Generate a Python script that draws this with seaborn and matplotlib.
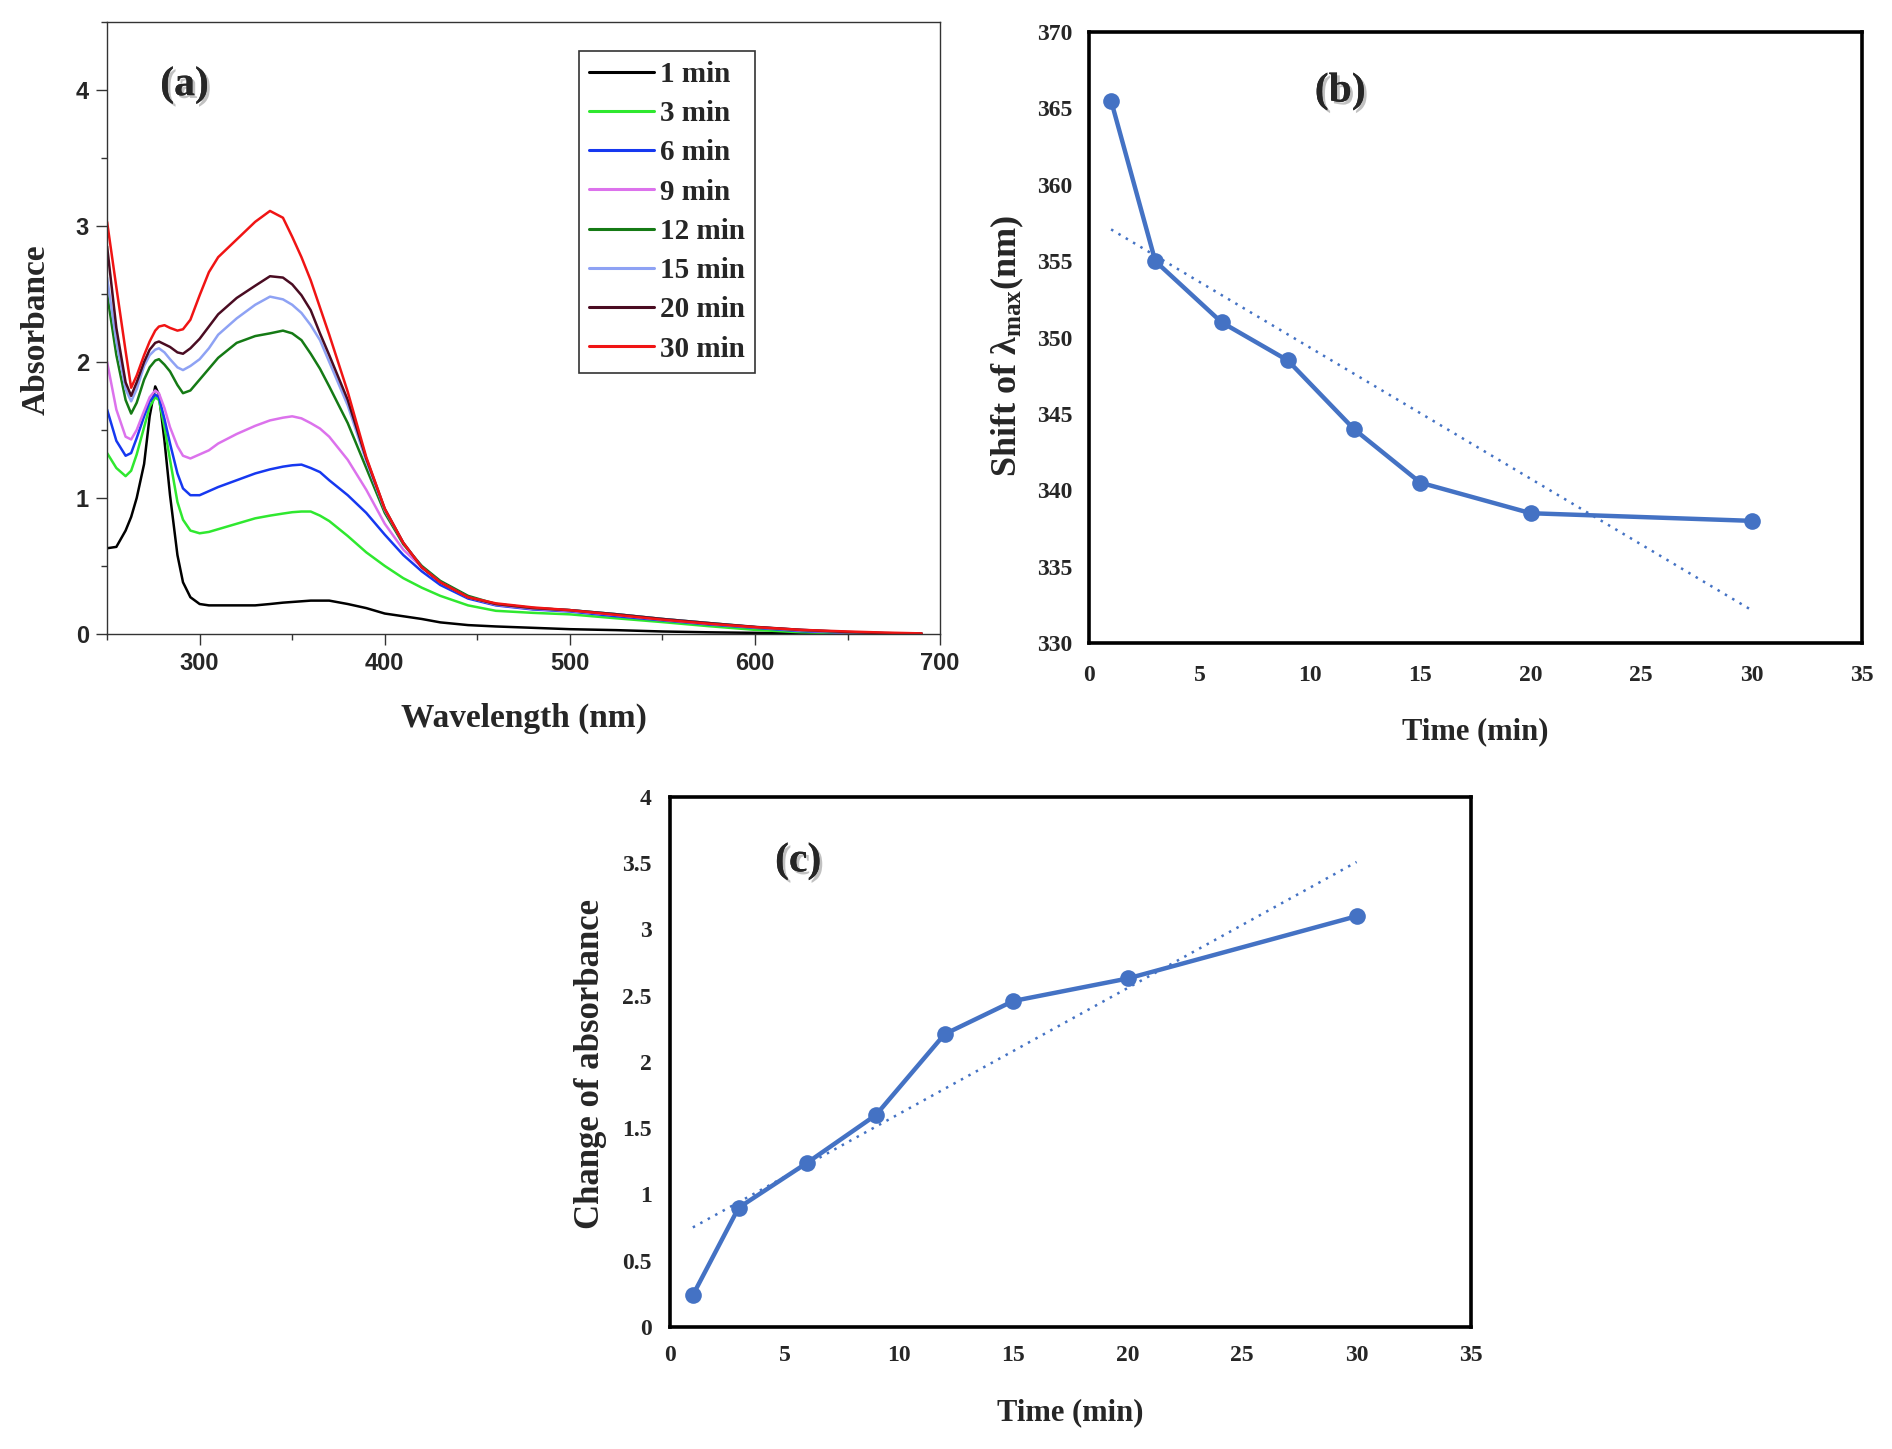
import numpy as np
import pandas as pd
import matplotlib
matplotlib.use("Agg")
import matplotlib.pyplot as plt
import matplotlib.patheffects as pe
import seaborn as sns

# ---- panel (a): UV-vis spectra ----
wavelength = [250, 255, 260, 263, 266, 270, 273, 276, 278, 281, 284, 288, 291, 295,
              300, 305, 310, 320, 330, 338, 345, 350, 355, 360, 365, 370, 380, 390,
              400, 410, 420, 430, 445, 460, 480, 500, 525, 550, 575, 600, 625, 650,
              670, 690]

abs_1min = [0.63, 0.64, 0.76, 0.86, 1.00, 1.25, 1.60, 1.82, 1.76, 1.42, 1.02, 0.58, 0.38, 0.27,
            0.22, 0.21, 0.21, 0.21, 0.21, 0.22, 0.23, 0.235, 0.24, 0.245, 0.245, 0.245, 0.22, 0.19,
            0.15, 0.13, 0.11, 0.085, 0.065, 0.055, 0.045, 0.035, 0.028, 0.018, 0.012, 0.008, 0.005,
            0.003, 0.002, 0.001]
abs_3min = [1.33, 1.22, 1.16, 1.20, 1.32, 1.52, 1.67, 1.74, 1.72, 1.52, 1.28, 0.97, 0.84, 0.76,
            0.74, 0.75, 0.77, 0.81, 0.85, 0.87, 0.885, 0.895, 0.90, 0.90, 0.87, 0.83, 0.72, 0.60,
            0.50, 0.41, 0.34, 0.28, 0.21, 0.17, 0.155, 0.144, 0.115, 0.087, 0.057, 0.03, 0.012,
            0.005, 0.002, 0.001]
abs_6min = [1.65, 1.42, 1.31, 1.33, 1.44, 1.60, 1.71, 1.76, 1.74, 1.58, 1.40, 1.18, 1.07, 1.02,
            1.02, 1.05, 1.08, 1.13, 1.18, 1.21, 1.23, 1.24, 1.245, 1.22, 1.19, 1.13, 1.02, 0.89,
            0.73, 0.58, 0.46, 0.36, 0.26, 0.21, 0.18, 0.165, 0.13, 0.10, 0.07, 0.045, 0.02,
            0.008, 0.003, 0.001]
abs_9min = [2.00, 1.65, 1.45, 1.43, 1.50, 1.64, 1.74, 1.79, 1.77, 1.66, 1.52, 1.38, 1.31, 1.29,
            1.32, 1.35, 1.40, 1.47, 1.53, 1.57, 1.59, 1.60, 1.585, 1.55, 1.51, 1.45, 1.28, 1.06,
            0.81, 0.62, 0.49, 0.38, 0.27, 0.215, 0.185, 0.17, 0.14, 0.105, 0.075, 0.05, 0.025,
            0.01, 0.004, 0.001]
abs_12min = [2.50, 2.05, 1.72, 1.62, 1.70, 1.87, 1.96, 2.01, 2.02, 1.98, 1.93, 1.83, 1.77, 1.79,
             1.87, 1.95, 2.03, 2.14, 2.19, 2.21, 2.23, 2.21, 2.16, 2.06, 1.95, 1.82, 1.55, 1.22,
             0.89, 0.66, 0.50, 0.39, 0.28, 0.22, 0.19, 0.175, 0.145, 0.11, 0.08, 0.05, 0.028,
             0.012, 0.005, 0.001]
abs_15min = [2.62, 2.15, 1.80, 1.71, 1.80, 1.97, 2.05, 2.09, 2.10, 2.07, 2.02, 1.96, 1.94, 1.97,
             2.02, 2.10, 2.20, 2.32, 2.42, 2.48, 2.46, 2.42, 2.36, 2.27, 2.16, 2.00, 1.68, 1.27,
             0.91, 0.67, 0.49, 0.38, 0.27, 0.22, 0.19, 0.175, 0.145, 0.11, 0.08, 0.05, 0.03,
             0.013, 0.006, 0.002]
abs_20min = [2.85, 2.25, 1.85, 1.75, 1.85, 2.00, 2.09, 2.14, 2.15, 2.13, 2.11, 2.07, 2.06, 2.10,
             2.17, 2.26, 2.35, 2.47, 2.56, 2.63, 2.62, 2.57, 2.49, 2.38, 2.21, 2.05, 1.72, 1.29,
             0.92, 0.67, 0.49, 0.38, 0.27, 0.22, 0.19, 0.175, 0.145, 0.11, 0.08, 0.052, 0.03,
             0.014, 0.006, 0.002]
abs_30min = [3.03, 2.55, 2.08, 1.81, 1.90, 2.05, 2.15, 2.23, 2.26, 2.27, 2.25, 2.23, 2.24, 2.31,
             2.49, 2.66, 2.77, 2.90, 3.03, 3.11, 3.06, 2.92, 2.77, 2.60, 2.40, 2.20, 1.78, 1.30,
             0.92, 0.67, 0.49, 0.38, 0.27, 0.225, 0.195, 0.175, 0.14, 0.105, 0.075, 0.05, 0.03,
             0.018, 0.01, 0.004]

series_labels = ["1 min", "3 min", "6 min", "9 min", "12 min", "15 min", "20 min", "30 min"]
series_colors = ["#000000", "#2fe82f", "#1638f0", "#dc72ec", "#157a15", "#8ea2f4", "#4a0c22", "#f01414"]
spectra = [abs_1min, abs_3min, abs_6min, abs_9min, abs_12min, abs_15min, abs_20min, abs_30min]

# ---- panels (b) and (c): kinetics ----
time_min = [1, 3, 6, 9, 12, 15, 20, 30]
lambda_max = [365.5, 355.0, 351.0, 348.5, 344.0, 340.5, 338.5, 338.0]
abs_change = [0.24, 0.90, 1.24, 1.60, 2.21, 2.46, 2.63, 3.10]

excel_blue = "#4472C4"

sns.set_theme(style="white")
plt.rcParams["font.family"] = ["Liberation Serif", "DejaVu Serif"]
plt.rcParams["mathtext.fontset"] = "custom"
plt.rcParams["mathtext.rm"] = "Liberation Serif:bold"
plt.rcParams["mathtext.it"] = "Liberation Serif:bold"
plt.rcParams["mathtext.bf"] = "Liberation Serif:bold"

fig = plt.figure(figsize=(18.92, 14.49), dpi=100)
fig.patch.set_facecolor("white")

shadow = [pe.withSimplePatchShadow(offset=(2, -2), shadow_rgbFace="#999999", alpha=0.6), pe.Normal()]

# ================= (a) =================
ax_a = fig.add_axes([0.0566, 0.5625, 0.4403, 0.4224])
long_df = pd.DataFrame({
    "wl": wavelength * len(spectra),
    "A": [v for s in spectra for v in s],
    "t": [lab for lab in series_labels for _ in wavelength],
})
sns.lineplot(data=long_df, x="wl", y="A", hue="t", hue_order=series_labels,
             palette=series_colors, estimator=None, sort=False, lw=1.8, ax=ax_a)

ax_a.set_xlim(250, 700)
ax_a.set_ylim(0, 4.5)
ax_a.set_xticks([300, 400, 500, 600, 700], labels=["300", "400", "500", "600", "700"],
                fontfamily="Liberation Sans", fontweight="bold", fontsize=17)
ax_a.set_xticks([250, 350, 450, 550, 650], minor=True)
ax_a.set_yticks([0, 1, 2, 3, 4], labels=["0", "1", "2", "3", "4"],
                fontfamily="Liberation Sans", fontweight="bold", fontsize=17)
ax_a.set_yticks([0.5, 1.5, 2.5, 3.5, 4.5], minor=True)
ax_a.tick_params(which="both", direction="out", bottom=True, left=True, top=False, right=False,
                 width=1, color="#333333")
ax_a.tick_params(which="major", length=8, pad=5)
ax_a.tick_params(which="minor", length=4.5)
for sp in ax_a.spines.values():
    sp.set_color("#333333")
    sp.set_linewidth(1.0)
ax_a.set_xlabel("Wavelength (nm)", fontsize=24, fontweight="bold")
ax_a.set_ylabel("Absorbance", fontsize=24, fontweight="bold")
ax_a.xaxis.set_label_coords(0.5, -0.112)
ax_a.yaxis.set_label_coords(-0.066, 0.497)
leg = ax_a.legend(loc="upper left", bbox_to_anchor=(0.566, 0.953), frameon=True, fancybox=False,
                  edgecolor="#333333", framealpha=1, handlelength=2.25, handletextpad=0.2,
                  labelspacing=0.42, borderpad=0.35, borderaxespad=0,
                  prop={"family": "Liberation Serif", "weight": "bold", "size": 21})
leg.get_frame().set_linewidth(1.2)
for h in leg.get_lines():
    h.set_linewidth(2.2)
ax_a.text(0.093, 0.897, "(a)", transform=ax_a.transAxes, ha="center", va="center",
          fontsize=30, fontweight="bold", path_effects=shadow)


def excel_style(ax, pad_x, pad_y):
    ax.tick_params(which="both", length=0, labelsize=17, pad=0)
    ax.tick_params(axis="x", pad=pad_x)
    ax.tick_params(axis="y", pad=pad_y)
    for lbl in ax.get_xticklabels() + ax.get_yticklabels():
        lbl.set_fontweight("bold")
    for sp in ax.spines.values():
        sp.set_color("black")
        sp.set_linewidth(2.6)


# ================= (b) =================
ax_b = fig.add_axes([0.5756, 0.5562, 0.4086, 0.4217])
sns.regplot(x=time_min, y=lambda_max, scatter=False, ci=None, truncate=True, ax=ax_b,
            line_kws={"color": excel_blue, "lw": 1.8, "ls": (0, (1, 2.4))})
sns.lineplot(x=time_min, y=lambda_max, marker="o", markersize=12, markeredgewidth=0,
             color=excel_blue, lw=3.2, ax=ax_b)
ax_b.set_xlim(0, 35)
ax_b.set_ylim(330, 370)
ax_b.set_xticks(np.arange(0, 36, 5))
ax_b.set_yticks(np.arange(330, 371, 5))
excel_style(ax_b, 16, 12)
ax_b.set_xlabel("Time (min)", fontsize=22, fontweight="bold")
ax_b.set_ylabel(r"Shift of $\lambda_{\rm max}$(nm)", fontsize=26, fontweight="bold")
ax_b.xaxis.set_label_coords(0.5, -0.122)
ax_b.yaxis.set_label_coords(-0.082, 0.486)
ax_b.text(0.325, 0.903, "(b)", transform=ax_b.transAxes, ha="center", va="center",
          fontsize=30, fontweight="bold", path_effects=shadow)

# ================= (c) =================
ax_c = fig.add_axes([0.3541, 0.0842, 0.4234, 0.3658])
sns.regplot(x=time_min, y=abs_change, scatter=False, ci=None, truncate=True, ax=ax_c,
            line_kws={"color": excel_blue, "lw": 1.8, "ls": (0, (1, 2.4))})
sns.lineplot(x=time_min, y=abs_change, marker="o", markersize=12, markeredgewidth=0,
             color=excel_blue, lw=3.2, ax=ax_c)
ax_c.set_xlim(0, 35)
ax_c.set_ylim(0, 4)
ax_c.set_xticks(np.arange(0, 36, 5))
ax_c.set_yticks(np.arange(0, 4.01, 0.5), labels=["0", "0.5", "1", "1.5", "2", "2.5", "3", "3.5", "4"])
excel_style(ax_c, 13, 13)
ax_c.set_xlabel("Time (min)", fontsize=22, fontweight="bold")
ax_c.set_ylabel("Change of absorbance", fontsize=25, fontweight="bold")
ax_c.xaxis.set_label_coords(0.5, -0.135)
ax_c.yaxis.set_label_coords(-0.078, 0.496)
ax_c.text(0.16, 0.879, "(c)", transform=ax_c.transAxes, ha="center", va="center",
          fontsize=30, fontweight="bold", path_effects=shadow)

fig.savefig("out.png", dpi=100, facecolor="white")
